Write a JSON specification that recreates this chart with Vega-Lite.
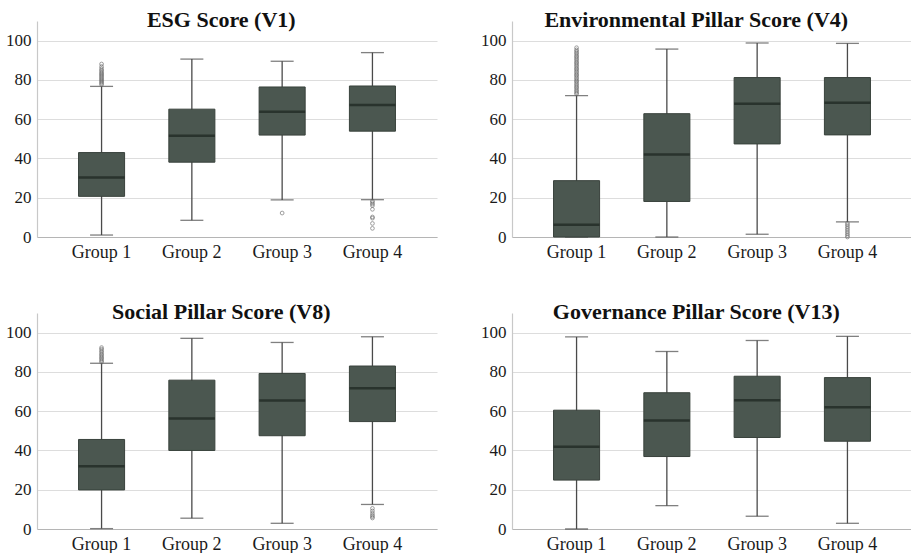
{
  "$schema": "https://vega.github.io/schema/vega-lite/v6.json",
  "padding": {"left": 5, "top": 9, "right": 0, "bottom": 0},
  "datasets": {
    "stats": [
      {"panel": "ESG", "group": "Group 1", "lower": 1.0, "q1": 20.7, "median": 30.3, "q3": 43.0, "upper": 76.7},
      {"panel": "ESG", "group": "Group 2", "lower": 8.5, "q1": 38.1, "median": 51.5, "q3": 65.1, "upper": 90.6},
      {"panel": "ESG", "group": "Group 3", "lower": 18.9, "q1": 51.9, "median": 63.8, "q3": 76.4, "upper": 89.5},
      {"panel": "ESG", "group": "Group 4", "lower": 19.0, "q1": 53.9, "median": 67.2, "q3": 76.9, "upper": 93.9},
      {"panel": "ENV", "group": "Group 1", "lower": 0.0, "q1": 0.0, "median": 6.3, "q3": 28.7, "upper": 72.0},
      {"panel": "ENV", "group": "Group 2", "lower": 0.0, "q1": 18.1, "median": 42.0, "q3": 62.8, "upper": 95.7},
      {"panel": "ENV", "group": "Group 3", "lower": 1.4, "q1": 47.4, "median": 67.9, "q3": 81.2, "upper": 98.8},
      {"panel": "ENV", "group": "Group 4", "lower": 7.7, "q1": 52.0, "median": 68.4, "q3": 81.2, "upper": 98.6},
      {"panel": "SOC", "group": "Group 1", "lower": 0.2, "q1": 19.9, "median": 31.9, "q3": 45.6, "upper": 84.4},
      {"panel": "SOC", "group": "Group 2", "lower": 5.5, "q1": 40.0, "median": 56.3, "q3": 75.8, "upper": 97.1},
      {"panel": "SOC", "group": "Group 3", "lower": 2.9, "q1": 47.5, "median": 65.4, "q3": 79.2, "upper": 95.0},
      {"panel": "SOC", "group": "Group 4", "lower": 12.5, "q1": 54.7, "median": 71.7, "q3": 83.0, "upper": 97.9},
      {"panel": "GOV", "group": "Group 1", "lower": 0.0, "q1": 24.9, "median": 41.9, "q3": 60.5, "upper": 97.8},
      {"panel": "GOV", "group": "Group 2", "lower": 11.9, "q1": 36.9, "median": 55.2, "q3": 69.4, "upper": 90.4},
      {"panel": "GOV", "group": "Group 3", "lower": 6.5, "q1": 46.6, "median": 65.6, "q3": 77.8, "upper": 96.0},
      {"panel": "GOV", "group": "Group 4", "lower": 2.9, "q1": 44.7, "median": 62.0, "q3": 77.1, "upper": 98.1}
    ],
    "outliers": [
      {"panel": "ESG", "group": "Group 1", "value": 77.6},
      {"panel": "ESG", "group": "Group 1", "value": 78.2},
      {"panel": "ESG", "group": "Group 1", "value": 78.8},
      {"panel": "ESG", "group": "Group 1", "value": 79.4},
      {"panel": "ESG", "group": "Group 1", "value": 80.0},
      {"panel": "ESG", "group": "Group 1", "value": 80.6},
      {"panel": "ESG", "group": "Group 1", "value": 81.2},
      {"panel": "ESG", "group": "Group 1", "value": 81.8},
      {"panel": "ESG", "group": "Group 1", "value": 82.4},
      {"panel": "ESG", "group": "Group 1", "value": 83.0},
      {"panel": "ESG", "group": "Group 1", "value": 83.6},
      {"panel": "ESG", "group": "Group 1", "value": 84.3},
      {"panel": "ESG", "group": "Group 1", "value": 85.0},
      {"panel": "ESG", "group": "Group 1", "value": 85.8},
      {"panel": "ESG", "group": "Group 1", "value": 86.8},
      {"panel": "ESG", "group": "Group 1", "value": 88.1},
      {"panel": "ESG", "group": "Group 3", "value": 12.2},
      {"panel": "ESG", "group": "Group 4", "value": 18.3},
      {"panel": "ESG", "group": "Group 4", "value": 17.6},
      {"panel": "ESG", "group": "Group 4", "value": 16.8},
      {"panel": "ESG", "group": "Group 4", "value": 16.0},
      {"panel": "ESG", "group": "Group 4", "value": 14.1},
      {"panel": "ESG", "group": "Group 4", "value": 10.2},
      {"panel": "ESG", "group": "Group 4", "value": 9.6},
      {"panel": "ESG", "group": "Group 4", "value": 6.9},
      {"panel": "ESG", "group": "Group 4", "value": 4.4},
      {"panel": "ENV", "group": "Group 1", "value": 72.8},
      {"panel": "ENV", "group": "Group 1", "value": 73.5},
      {"panel": "ENV", "group": "Group 1", "value": 74.2},
      {"panel": "ENV", "group": "Group 1", "value": 75.0},
      {"panel": "ENV", "group": "Group 1", "value": 75.8},
      {"panel": "ENV", "group": "Group 1", "value": 76.5},
      {"panel": "ENV", "group": "Group 1", "value": 77.2},
      {"panel": "ENV", "group": "Group 1", "value": 78.0},
      {"panel": "ENV", "group": "Group 1", "value": 78.8},
      {"panel": "ENV", "group": "Group 1", "value": 79.5},
      {"panel": "ENV", "group": "Group 1", "value": 80.2},
      {"panel": "ENV", "group": "Group 1", "value": 81.0},
      {"panel": "ENV", "group": "Group 1", "value": 81.8},
      {"panel": "ENV", "group": "Group 1", "value": 82.5},
      {"panel": "ENV", "group": "Group 1", "value": 83.2},
      {"panel": "ENV", "group": "Group 1", "value": 84.0},
      {"panel": "ENV", "group": "Group 1", "value": 84.8},
      {"panel": "ENV", "group": "Group 1", "value": 85.5},
      {"panel": "ENV", "group": "Group 1", "value": 86.2},
      {"panel": "ENV", "group": "Group 1", "value": 87.0},
      {"panel": "ENV", "group": "Group 1", "value": 87.8},
      {"panel": "ENV", "group": "Group 1", "value": 88.5},
      {"panel": "ENV", "group": "Group 1", "value": 89.2},
      {"panel": "ENV", "group": "Group 1", "value": 90.0},
      {"panel": "ENV", "group": "Group 1", "value": 90.8},
      {"panel": "ENV", "group": "Group 1", "value": 91.5},
      {"panel": "ENV", "group": "Group 1", "value": 92.2},
      {"panel": "ENV", "group": "Group 1", "value": 93.0},
      {"panel": "ENV", "group": "Group 1", "value": 93.8},
      {"panel": "ENV", "group": "Group 1", "value": 94.5},
      {"panel": "ENV", "group": "Group 1", "value": 95.3},
      {"panel": "ENV", "group": "Group 1", "value": 96.4},
      {"panel": "ENV", "group": "Group 4", "value": 7.0},
      {"panel": "ENV", "group": "Group 4", "value": 6.2},
      {"panel": "ENV", "group": "Group 4", "value": 5.3},
      {"panel": "ENV", "group": "Group 4", "value": 4.4},
      {"panel": "ENV", "group": "Group 4", "value": 3.5},
      {"panel": "ENV", "group": "Group 4", "value": 2.6},
      {"panel": "ENV", "group": "Group 4", "value": 1.7},
      {"panel": "ENV", "group": "Group 4", "value": 0.8},
      {"panel": "ENV", "group": "Group 4", "value": 0.0},
      {"panel": "SOC", "group": "Group 1", "value": 85.0},
      {"panel": "SOC", "group": "Group 1", "value": 85.7},
      {"panel": "SOC", "group": "Group 1", "value": 86.4},
      {"panel": "SOC", "group": "Group 1", "value": 87.1},
      {"panel": "SOC", "group": "Group 1", "value": 87.8},
      {"panel": "SOC", "group": "Group 1", "value": 88.5},
      {"panel": "SOC", "group": "Group 1", "value": 89.2},
      {"panel": "SOC", "group": "Group 1", "value": 90.0},
      {"panel": "SOC", "group": "Group 1", "value": 90.8},
      {"panel": "SOC", "group": "Group 1", "value": 91.6},
      {"panel": "SOC", "group": "Group 1", "value": 92.4},
      {"panel": "SOC", "group": "Group 4", "value": 10.5},
      {"panel": "SOC", "group": "Group 4", "value": 9.2},
      {"panel": "SOC", "group": "Group 4", "value": 8.0},
      {"panel": "SOC", "group": "Group 4", "value": 7.0},
      {"panel": "SOC", "group": "Group 4", "value": 6.3},
      {"panel": "SOC", "group": "Group 4", "value": 5.6}
    ]
  },
  "columns": 2,
  "spacing": {"row": 76, "column": 75},
  "bounds": "flush",
  "concat": [
    {
      "title": {"text": "ESG Score (V1)"},
      "width": 400, "height": 216,
      "layer": [
        {"data": {"name": "stats"}, "transform": [{"filter": "datum.panel === 'ESG'"}], "mark": {"type": "rule", "color": "#4a4a4a", "strokeWidth": 1.3}, "encoding": {"x": {"field": "group", "type": "nominal"}, "y": {"field": "lower", "type": "quantitative", "scale": {"domain": [0, 110], "nice": false}}, "y2": {"field": "upper"}}},
        {"data": {"name": "stats"}, "transform": [{"filter": "datum.panel === 'ESG'"}], "mark": {"type": "tick", "color": "#4a4a4a", "size": 23, "thickness": 1.3}, "encoding": {"x": {"field": "group", "type": "nominal"}, "y": {"field": "lower", "type": "quantitative"}}},
        {"data": {"name": "stats"}, "transform": [{"filter": "datum.panel === 'ESG'"}], "mark": {"type": "tick", "color": "#4a4a4a", "size": 23, "thickness": 1.3}, "encoding": {"x": {"field": "group", "type": "nominal"}, "y": {"field": "upper", "type": "quantitative"}}},
        {"data": {"name": "stats"}, "transform": [{"filter": "datum.panel === 'ESG'"}], "mark": {"type": "bar", "fill": "#4b5750", "stroke": "#39423c", "strokeWidth": 1}, "encoding": {"x": {"field": "group", "type": "nominal"}, "y": {"field": "q1", "type": "quantitative"}, "y2": {"field": "q3"}}},
        {"data": {"name": "stats"}, "transform": [{"filter": "datum.panel === 'ESG'"}], "mark": {"type": "tick", "color": "#1b241e", "size": 46, "thickness": 2.5}, "encoding": {"x": {"field": "group", "type": "nominal"}, "y": {"field": "median", "type": "quantitative"}}},
        {"data": {"name": "outliers"}, "transform": [{"filter": "datum.panel === 'ESG'"}], "mark": {"type": "point", "shape": "circle", "filled": false, "size": 14, "stroke": "#666", "strokeWidth": 0.9}, "encoding": {"x": {"field": "group", "type": "nominal"}, "y": {"field": "value", "type": "quantitative"}}}
      ]
    },
    {
      "title": {"text": "Environmental Pillar Score (V4)"},
      "width": 400, "height": 216,
      "layer": [
        {"data": {"name": "stats"}, "transform": [{"filter": "datum.panel === 'ENV'"}], "mark": {"type": "rule", "color": "#4a4a4a", "strokeWidth": 1.3}, "encoding": {"x": {"field": "group", "type": "nominal"}, "y": {"field": "lower", "type": "quantitative", "scale": {"domain": [0, 110], "nice": false}}, "y2": {"field": "upper"}}},
        {"data": {"name": "stats"}, "transform": [{"filter": "datum.panel === 'ENV'"}], "mark": {"type": "tick", "color": "#4a4a4a", "size": 23, "thickness": 1.3}, "encoding": {"x": {"field": "group", "type": "nominal"}, "y": {"field": "lower", "type": "quantitative"}}},
        {"data": {"name": "stats"}, "transform": [{"filter": "datum.panel === 'ENV'"}], "mark": {"type": "tick", "color": "#4a4a4a", "size": 23, "thickness": 1.3}, "encoding": {"x": {"field": "group", "type": "nominal"}, "y": {"field": "upper", "type": "quantitative"}}},
        {"data": {"name": "stats"}, "transform": [{"filter": "datum.panel === 'ENV'"}], "mark": {"type": "bar", "fill": "#4b5750", "stroke": "#39423c", "strokeWidth": 1}, "encoding": {"x": {"field": "group", "type": "nominal"}, "y": {"field": "q1", "type": "quantitative"}, "y2": {"field": "q3"}}},
        {"data": {"name": "stats"}, "transform": [{"filter": "datum.panel === 'ENV'"}], "mark": {"type": "tick", "color": "#1b241e", "size": 46, "thickness": 2.5}, "encoding": {"x": {"field": "group", "type": "nominal"}, "y": {"field": "median", "type": "quantitative"}}},
        {"data": {"name": "outliers"}, "transform": [{"filter": "datum.panel === 'ENV'"}], "mark": {"type": "point", "shape": "circle", "filled": false, "size": 14, "stroke": "#666", "strokeWidth": 0.9}, "encoding": {"x": {"field": "group", "type": "nominal"}, "y": {"field": "value", "type": "quantitative"}}}
      ]
    },
    {
      "title": {"text": "Social Pillar Score (V8)"},
      "width": 400, "height": 216,
      "layer": [
        {"data": {"name": "stats"}, "transform": [{"filter": "datum.panel === 'SOC'"}], "mark": {"type": "rule", "color": "#4a4a4a", "strokeWidth": 1.3}, "encoding": {"x": {"field": "group", "type": "nominal"}, "y": {"field": "lower", "type": "quantitative", "scale": {"domain": [0, 110], "nice": false}}, "y2": {"field": "upper"}}},
        {"data": {"name": "stats"}, "transform": [{"filter": "datum.panel === 'SOC'"}], "mark": {"type": "tick", "color": "#4a4a4a", "size": 23, "thickness": 1.3}, "encoding": {"x": {"field": "group", "type": "nominal"}, "y": {"field": "lower", "type": "quantitative"}}},
        {"data": {"name": "stats"}, "transform": [{"filter": "datum.panel === 'SOC'"}], "mark": {"type": "tick", "color": "#4a4a4a", "size": 23, "thickness": 1.3}, "encoding": {"x": {"field": "group", "type": "nominal"}, "y": {"field": "upper", "type": "quantitative"}}},
        {"data": {"name": "stats"}, "transform": [{"filter": "datum.panel === 'SOC'"}], "mark": {"type": "bar", "fill": "#4b5750", "stroke": "#39423c", "strokeWidth": 1}, "encoding": {"x": {"field": "group", "type": "nominal"}, "y": {"field": "q1", "type": "quantitative"}, "y2": {"field": "q3"}}},
        {"data": {"name": "stats"}, "transform": [{"filter": "datum.panel === 'SOC'"}], "mark": {"type": "tick", "color": "#1b241e", "size": 46, "thickness": 2.5}, "encoding": {"x": {"field": "group", "type": "nominal"}, "y": {"field": "median", "type": "quantitative"}}},
        {"data": {"name": "outliers"}, "transform": [{"filter": "datum.panel === 'SOC'"}], "mark": {"type": "point", "shape": "circle", "filled": false, "size": 14, "stroke": "#666", "strokeWidth": 0.9}, "encoding": {"x": {"field": "group", "type": "nominal"}, "y": {"field": "value", "type": "quantitative"}}}
      ]
    },
    {
      "title": {"text": "Governance Pillar Score (V13)"},
      "width": 400, "height": 216,
      "layer": [
        {"data": {"name": "stats"}, "transform": [{"filter": "datum.panel === 'GOV'"}], "mark": {"type": "rule", "color": "#4a4a4a", "strokeWidth": 1.3}, "encoding": {"x": {"field": "group", "type": "nominal"}, "y": {"field": "lower", "type": "quantitative", "scale": {"domain": [0, 110], "nice": false}}, "y2": {"field": "upper"}}},
        {"data": {"name": "stats"}, "transform": [{"filter": "datum.panel === 'GOV'"}], "mark": {"type": "tick", "color": "#4a4a4a", "size": 23, "thickness": 1.3}, "encoding": {"x": {"field": "group", "type": "nominal"}, "y": {"field": "lower", "type": "quantitative"}}},
        {"data": {"name": "stats"}, "transform": [{"filter": "datum.panel === 'GOV'"}], "mark": {"type": "tick", "color": "#4a4a4a", "size": 23, "thickness": 1.3}, "encoding": {"x": {"field": "group", "type": "nominal"}, "y": {"field": "upper", "type": "quantitative"}}},
        {"data": {"name": "stats"}, "transform": [{"filter": "datum.panel === 'GOV'"}], "mark": {"type": "bar", "fill": "#4b5750", "stroke": "#39423c", "strokeWidth": 1}, "encoding": {"x": {"field": "group", "type": "nominal"}, "y": {"field": "q1", "type": "quantitative"}, "y2": {"field": "q3"}}},
        {"data": {"name": "stats"}, "transform": [{"filter": "datum.panel === 'GOV'"}], "mark": {"type": "tick", "color": "#1b241e", "size": 46, "thickness": 2.5}, "encoding": {"x": {"field": "group", "type": "nominal"}, "y": {"field": "median", "type": "quantitative"}}},
        {"data": {"name": "outliers"}, "transform": [{"filter": "datum.panel === 'GOV'"}], "mark": {"type": "point", "shape": "circle", "filled": false, "size": 14, "stroke": "#666", "strokeWidth": 0.9}, "encoding": {"x": {"field": "group", "type": "nominal"}, "y": {"field": "value", "type": "quantitative"}}}
      ]
    }
  ],
  "config": {
    "font": "Liberation Serif",
    "view": {"stroke": null},
    "scale": {"bandPaddingInner": 0.49, "bandPaddingOuter": 0.46},
    "axisX": {"title": null, "labelAngle": 0, "ticks": false, "domain": true, "domainColor": "#b5b5b5", "domainWidth": 1.2, "grid": false, "labelFont": "Liberation Serif", "labelFontSize": 18, "labelColor": "#1a1a1a", "labelPadding": 6},
    "axisY": {"title": null, "ticks": false, "domain": true, "domainColor": "#c8c8c8", "domainWidth": 1.2, "grid": true, "gridColor": "#dddddd", "gridWidth": 1.2, "labelFont": "Liberation Serif", "labelFontSize": 17, "labelColor": "#1a1a1a", "labelPadding": 6, "values": [0, 20, 40, 60, 80, 100]},
    "title": {"font": "Liberation Serif", "fontSize": 22, "fontWeight": "bold", "color": "#111", "anchor": "middle", "frame": "bounds", "baseline": "alphabetic", "offset": -11}
  }
}
